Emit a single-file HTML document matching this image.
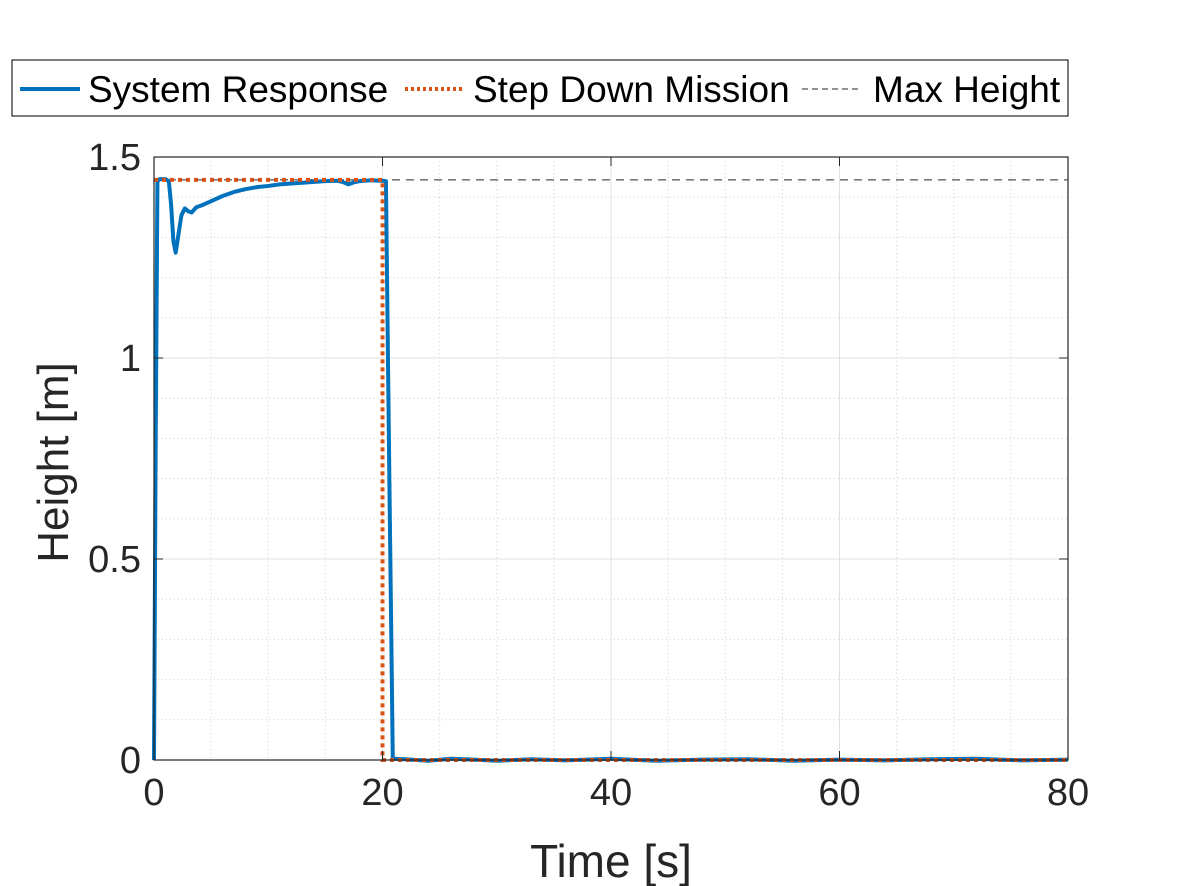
<!DOCTYPE html>
<html><head><meta charset="utf-8"><style>
body{margin:0;background:#fff;}
svg{display:block;font-family:"Liberation Sans",Arial,sans-serif;}
</style></head><body>
<svg id="chart" width="1181" height="886" xmlns="http://www.w3.org/2000/svg">
<rect width="1181" height="886" fill="#fff"/>
<g id="grid"></g>
<g id="series"></g>
<g id="axes"></g>
<g id="legend">
<rect x="12" y="60" width="1056" height="56" fill="#fff" stroke="#262626" stroke-width="1.2"/>
<line x1="20" y1="89" x2="80" y2="89" stroke="#0072BD" stroke-width="4"/>
<text x="88" y="102" font-size="37" fill="#000">System Response</text>
<line x1="405" y1="89" x2="463" y2="89" stroke="#D95319" stroke-width="4" stroke-dasharray="3,3"/>
<text x="473" y="102" font-size="37" fill="#000">Step Down Mission</text>
<line x1="802" y1="89" x2="862" y2="89" stroke="#262626" stroke-width="1" stroke-dasharray="6,4"/>
<text x="873" y="102" font-size="37" fill="#000">Max Height</text>
</g>
</svg>
<script>
const respT = [0,0.15,0.3,0.5,1.0,1.3,1.5,1.7,1.9,2.1,2.4,2.7,3.0,3.3,3.7,4.2,5,6,7,8,9,10,11,12,13,14,15,16,16.5,17,17.5,18,19,20,20.3,20.6,20.9,22,24,26,28,30,33,36,40,44,48,52,56,60,64,68,72,76,80];
const respV = [0,0.8,1.44,1.445,1.445,1.44,1.38,1.29,1.262,1.3,1.355,1.372,1.365,1.362,1.375,1.38,1.39,1.403,1.413,1.42,1.425,1.428,1.432,1.434,1.436,1.438,1.44,1.441,1.438,1.432,1.437,1.44,1.442,1.441,1.44,0.7,0.003,0.002,-0.002,0.003,0.001,-0.002,0.002,-0.001,0.003,-0.002,0.001,0.002,-0.002,0.001,-0.001,0.002,0.003,-0.001,0.001];
const stepT = [0,20,20,80];
const stepV = [1.443,1.443,0,0];
const maxH = 1.443;
const xTicks = [0,20,40,60,80];
const yTicks = [0,0.5,1,1.5];
const yTickLabels = ["0","0.5","1","1.5"];

const L=154,R=1068,T=157,B=760;
const sx=t=>L+(t-0)/(80-0)*(R-L);
const sy=v=>B-(v-0)/(1.5-0)*(B-T);
const NS="http://www.w3.org/2000/svg";
function mk(tag,attrs,parent){const e=document.createElementNS(NS,tag);for(const k in attrs)e.setAttribute(k,attrs[k]);parent.appendChild(e);return e;}
const grid=document.getElementById('grid'),series=document.getElementById('series'),axes=document.getElementById('axes');
mk('rect',{x:L,y:T,width:R-L,height:B-T,fill:'#fff'},grid);
for(let t=5;t<80;t+=5){if(t%20===0)continue;const l=mk('line',{x1:sx(t),x2:sx(t),y1:T,y2:B,stroke:'#cfcfcf','stroke-width':1,'stroke-dasharray':'1,3'},grid);}
for(let i=1;i<15;i++){const v=i/10;if(i%5===0)continue;const l=mk('line',{x1:L,x2:R,y1:sy(v),y2:sy(v),stroke:'#cfcfcf','stroke-width':1,'stroke-dasharray':'1,3'},grid);}
xTicks.forEach(t=>{const l=mk('line',{x1:sx(t),x2:sx(t),y1:T,y2:B,stroke:'#e0e0e0','stroke-width':1},grid);});
yTicks.forEach(v=>{const l=mk('line',{x1:L,x2:R,y1:sy(v),y2:sy(v),stroke:'#e0e0e0','stroke-width':1},grid);});
let ml=mk('line',{x1:L,x2:R,y1:sy(maxH),y2:sy(maxH),stroke:'#262626','stroke-width':1,'stroke-dasharray':'8,6'},series);


let rp=mk('polyline',{points:respT.map((t,i)=>sx(t)+','+sy(respV[i])).join(' '),fill:'none',stroke:'#0072BD','stroke-width':4,'stroke-linejoin':'round'},series);


let sp=mk('polyline',{points:stepT.map((t,i)=>sx(t)+','+sy(stepV[i])).join(' '),fill:'none',stroke:'#D95319','stroke-width':4,'stroke-dasharray':'4,4'},series);


let box=mk('rect',{x:L,y:T,width:R-L,height:B-T,fill:'none',stroke:'#262626','stroke-width':1.2},axes);


xTicks.forEach(t=>{mk('line',{x1:sx(t),x2:sx(t),y1:B,y2:B-9,stroke:'#262626'},axes);mk('line',{x1:sx(t),x2:sx(t),y1:T,y2:T+9,stroke:'#262626'},axes);
const tx=mk('text',{x:sx(t),y:B+45,'font-size':38,'text-anchor':'middle',fill:'#262626'},axes);tx.textContent=t;

});
yTicks.forEach((v,i)=>{mk('line',{x1:L,x2:L+9,y1:sy(v),y2:sy(v),stroke:'#262626'},axes);mk('line',{x1:R,x2:R-9,y1:sy(v),y2:sy(v),stroke:'#262626'},axes);
const tx=mk('text',{x:L-13,y:sy(v)+13,'font-size':38,'text-anchor':'end',fill:'#262626'},axes);tx.textContent=yTickLabels[i];

});
const xt=mk('text',{x:(L+R)/2,y:877,'font-size':46,'text-anchor':'middle',fill:'#262626'},axes);xt.textContent='Time [s]';


const yt=mk('text',{x:0,y:0,'font-size':44,'text-anchor':'middle',fill:'#262626',transform:'translate(68,'+((T+B)/2+4)+') rotate(-90)'},axes);yt.textContent='Height [m]';


</script>
</body></html>
